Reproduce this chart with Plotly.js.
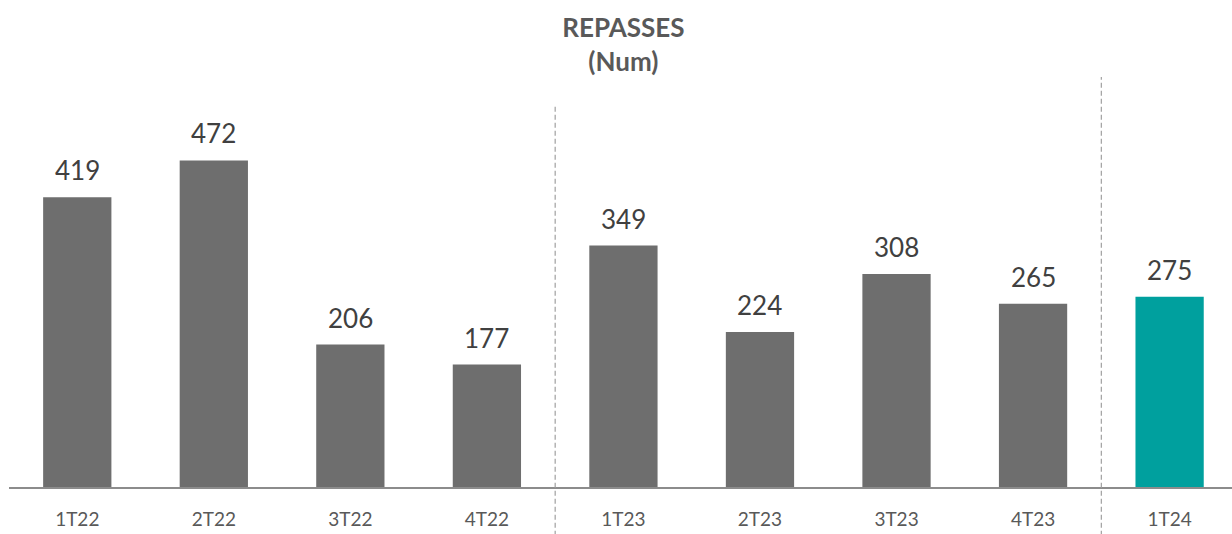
<!DOCTYPE html>
<html>
<head>
<meta charset="utf-8">
<script src="https://cdn.plot.ly/plotly-3.0.1.min.js"></script>
<style>html,body{margin:0;padding:0;background:#fff;}#chart{width:1232px;height:534px;}</style>
</head>
<body>
<div id="chart"></div>
<script>
const categories = ['1T22','2T22','3T22','4T22','1T23','2T23','3T23','4T23','1T24'];
const repasses = [419, 472, 206, 177, 349, 224, 308, 265, 275];
const highlightCategory = '1T24';
const dividerPositions = [3.5, 7.5];

const barColors = categories.map(c => c === highlightCategory ? '#00A09E' : '#6E6E6E');

const trace = {
  type: 'bar',
  x: categories,
  y: repasses,
  marker: {color: barColors},
  hoverinfo: 'x+y'
};

const annotations = categories.map((c, i) => ({
  x: c, y: repasses[i], xref: 'x', yref: 'y',
  text: String(repasses[i]),
  showarrow: false, yanchor: 'bottom', yshift: 9,
  font: {family: 'Lato, sans-serif', size: 26, color: '#404040'}
}));

const dividerTops = [0.784, 0.842];
const shapes = dividerPositions.map((p, i) => ({
  type: 'line', xref: 'x', yref: 'paper',
  x0: p, x1: p, y0: -0.1, y1: dividerTops[i],
  line: {color: '#A0A0A0', width: 1.2, dash: '5px,3px'}
}));

const layout = {
  width: 1232, height: 534,
  margin: {l: 9, r: 0, t: 0, b: 47},
  paper_bgcolor: '#ffffff', plot_bgcolor: '#ffffff',
  showlegend: false,
  bargap: 0.5,
  title: {
    text: '<b>REPASSES</b><br><b>(Num)</b>',
    font: {family: 'Lato, sans-serif', size: 26, color: '#595959'},
    x: 0.506, xref: 'container', xanchor: 'center',
    y: 0.931, yref: 'container', yanchor: 'top'
  },
  xaxis: {
    type: 'category',
    range: [-0.5, 8.457],
    showline: true, linecolor: '#8C8C8C', linewidth: 2,
    showgrid: false, zeroline: false, ticks: '',
    ticklabelstandoff: 14,
    tickfont: {family: 'Lato, sans-serif', size: 19, color: '#595959'}
  },
  yaxis: {
    range: [0, 704],
    visible: false, showgrid: false, zeroline: false
  },
  annotations: annotations,
  shapes: shapes
};

Plotly.newPlot('chart', [trace], layout, {displayModeBar: false, staticPlot: true});
</script>
</body>
</html>
